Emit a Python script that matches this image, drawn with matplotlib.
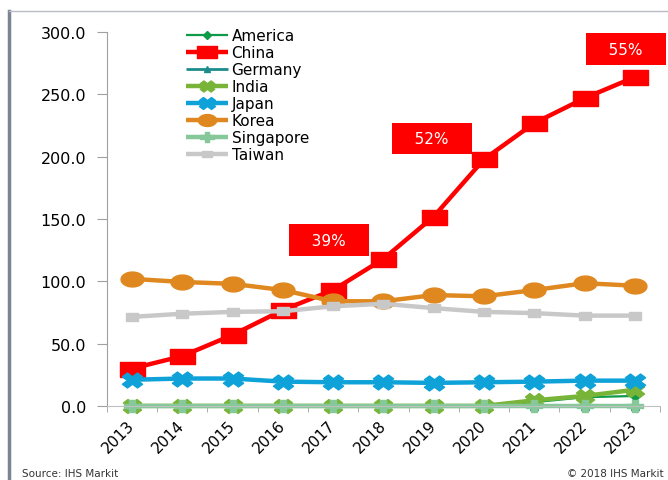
import matplotlib
matplotlib.use("Agg")
import matplotlib.pyplot as plt
import numpy as np
from matplotlib.path import Path
from matplotlib.markers import MarkerStyle
from matplotlib.transforms import Affine2D
from matplotlib.lines import Line2D

# Données
annees = [2013, 2014, 2015, 2016, 2017, 2018, 2019, 2020, 2021, 2022, 2023]
america = [0, 0, 0, 0, 0, 0, 0, 0, 3, 7, 8]
china = [30, 40, 57, 77, 93, 118, 152, 198, 227, 247, 264]
germany = [0, 0, 0, 0, 0, 0, 0, 0, 0, 0, 0]
india = [0, 0, 0, 0, 0, 0, 0, 0, 4.5, 8, 13]
japan = [21, 22, 22, 19.5, 19, 19, 18.5, 19, 19.5, 20.3, 20.3]
korea = [102, 99.5, 98, 93, 84, 84, 89, 88, 93, 98.5, 96.5]
singapore = [0, 0, 0, 0, 0, 0, 0, 0, 0, 0, 0]
taiwan = [71.5, 74, 75.5, 76, 80, 82, 78.5, 75.5, 74.5, 72.5, 72.5]

# Parts de la Chine (annotations)
parts_annees = [2017, 2019, 2023]
parts_textes = ["39%", "52%", "55%"]

# Marqueurs étirés horizontalement (comme dans l'image)
def rect_etire(ratio):
    return Path([(-1, -ratio), (1, -ratio), (1, ratio), (-1, ratio), (-1, -ratio)],
                [Path.MOVETO, Path.LINETO, Path.LINETO, Path.LINETO, Path.CLOSEPOLY])

def ellipse_etiree(ratio):
    t = np.linspace(0, 2 * np.pi, 40)
    return Path(np.column_stack([np.cos(t), ratio * np.sin(t)]), closed=True)

def etirer(nom, sx):
    ms = MarkerStyle(nom)
    return ms.get_path().transformed(ms.get_transform() + Affine2D().scale(sx, 1))

series = [
    ("America", america, "#0e9a48", "D", 5, 1.6),
    ("China", china, "#ff0000", rect_etire(0.6), 18, 3.2),
    ("Germany", germany, "#1c8c8c", "^", 6, 2.0),
    ("India", india, "#78b437", etirer("X", 1.3), 13, 3.2),
    ("Japan", japan, "#0ea2d8", etirer("X", 1.35), 14.5, 3.2),
    ("Korea", korea, "#e08820", ellipse_etiree(0.65), 16.5, 3.2),
    ("Singapore", singapore, "#86c89a", etirer("P", 1.3), 12, 3.2),
    ("Taiwan", taiwan, "#c8c8c8", rect_etire(0.6), 9, 3.2),
]

fig = plt.figure(figsize=(6.68, 4.81), dpi=100)
ax = fig.add_axes([0.160, 0.154, 0.828, 0.777])

x = np.arange(len(annees))
lignes = []
for nom, valeurs, couleur, marqueur, taille, epaisseur in series:
    l, = ax.plot(x, valeurs, color=couleur, marker=marqueur, markersize=taille,
                 linewidth=epaisseur, label=nom, solid_capstyle="butt", clip_on=False)
    lignes.append(l)

# Étiquettes des parts en boîte rouge
decalages = [(-4, 50), (-2, 78), (-9, 28)]
for annee, texte, dec in zip(parts_annees, parts_textes, decalages):
    i = annees.index(annee)
    ax.annotate("   " + texte + "   ", xy=(x[i], china[i]), xytext=dec,
                textcoords="offset pixels", ha="center", va="center",
                color="white", fontsize=11,
                bbox=dict(boxstyle="square,pad=0.55", fc="#ff0000", ec="none"))

# Axes
ax.set_xlim(-0.5, len(annees) - 0.5)
ax.set_ylim(0, 300)
ax.set_yticks(np.arange(0, 301, 50))
ax.set_yticklabels(["%.1f" % v for v in np.arange(0, 301, 50)], fontsize=11.5)
ax.set_xticks(x)
ax.set_xticklabels([str(a) for a in annees], fontsize=11, rotation=45,
                   ha="right", va="center", rotation_mode="anchor")
ax.set_xticks(np.arange(-0.5, len(annees)), minor=True)
ax.tick_params(axis="x", which="major", length=0, pad=12)
ax.tick_params(axis="x", which="minor", length=4, color="#a0a0a0", direction="out")
ax.tick_params(axis="y", length=7, color="#a0a0a0", pad=8)

for c in ["top", "right"]:
    ax.spines[c].set_visible(False)
ax.spines["left"].set_color("#a0a0a0")
ax.spines["bottom"].set_color("#c0c0c0")

fig.legend(handles=lignes, loc="upper left", bbox_to_anchor=(0.278, 0.939),
           frameon=False, fontsize=11, labelspacing=0.13, handlelength=2.8,
           handletextpad=0.2, borderpad=0, borderaxespad=0, markerscale=0.8)

# Cadre de la page
fig.add_artist(Line2D([0.013, 0.013], [0, 1 - 12 / 481], color="#7c8494", linewidth=2.5))
fig.add_artist(Line2D([0.013, 1], [1 - 12 / 481, 1 - 12 / 481], color="#b8bcc4", linewidth=1))

fig.text(22 / 668, 1 - 474 / 481, "Source: IHS Markit", fontsize=7.5, va="center", color="#333333")
fig.text(664 / 668, 1 - 474 / 481, "© 2018 IHS Markit", fontsize=7.5, va="center", ha="right",
         color="#333333")

fig.savefig("out.png", dpi=100)
